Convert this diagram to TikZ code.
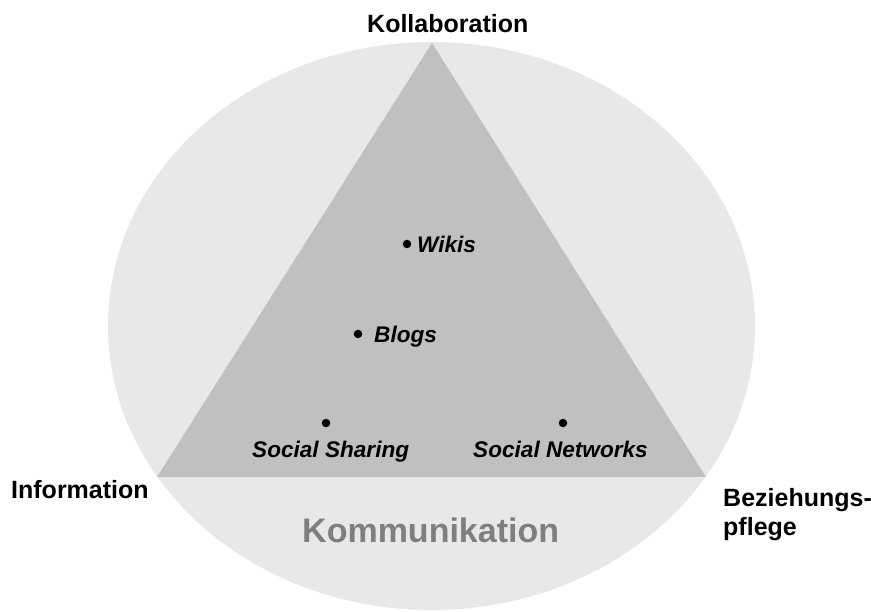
\documentclass[tikz,border=0pt]{standalone}
\usepackage{fontspec}
\setmainfont{Liberation Sans}
\definecolor{ellfill}{HTML}{E8E8E8}
\definecolor{trifill}{HTML}{C0C0C0}
\definecolor{kommgray}{HTML}{7F7F7F}
\begin{document}
\begin{tikzpicture}[x=1pt,y=-1pt,
  corner/.style={font=\fontsize{25}{29}\selectfont\bfseries, inner sep=0pt, anchor=base west, align=left},
  item/.style={font=\fontsize{22.6}{26}\selectfont\bfseries\itshape, inner sep=0pt, anchor=base west},
  dotmark/.style={circle, fill=black, inner sep=0pt, minimum size=8.5pt}]
\useasboundingbox (0,0) rectangle (871,612);
\fill[ellfill] (431.5,326) ellipse [x radius=323.5, y radius=284];
\fill[trifill] (432,43) -- (157,477) -- (706,477) -- cycle;
\node[corner] (koll) at (367,33) {Kollaboration};
\node[corner] (info) at (11,498) {Information};
\node[corner, anchor=north west, text depth=0pt] (bez) at (723,488) {Beziehungs-\\pflege};
\node[font=\fontsize{34}{40}\selectfont\bfseries, text=kommgray, inner sep=0pt, anchor=base west] (komm) at (302,542) {Kommunikation};
\node[dotmark] (dw) at (407,244) {};
\node[item] (wikis) at (417,253) {Wikis};
\node[dotmark] (db) at (358,334) {};
\node[item] (blogs) at (374,343) {Blogs};
\node[dotmark] (dss) at (326,423) {};
\node[item] (ss) at (252,458) {Social Sharing};
\node[dotmark] (dsn) at (563,423) {};
\node[item] (sn) at (473,458) {Social Networks};
\end{tikzpicture}
\end{document}
